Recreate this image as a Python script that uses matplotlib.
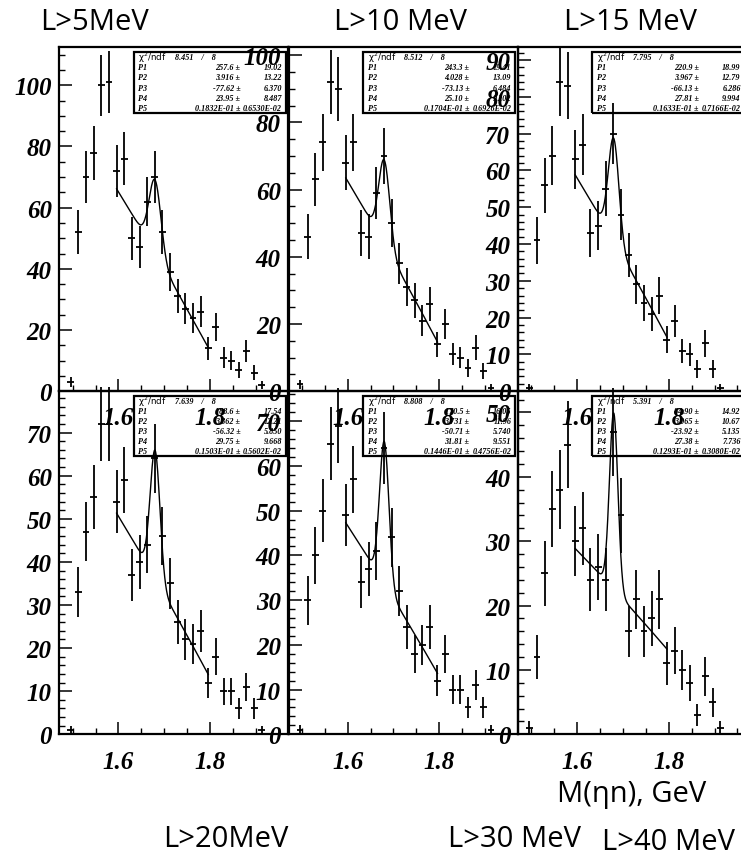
import numpy as np
import matplotlib
matplotlib.use("Agg")
import matplotlib.pyplot as plt
from matplotlib.patches import Rectangle
from matplotlib.ticker import MultipleLocator

# ---------------- data ----------------
mass = [1.4960, 1.5127, 1.5293, 1.5460, 1.5627, 1.5793, 1.5960, 1.6127, 1.6293,
        1.6460, 1.6627, 1.6793, 1.6960, 1.7127, 1.7293, 1.7460, 1.7627, 1.7793,
        1.7960, 1.8127, 1.8293, 1.8460, 1.8627, 1.8793, 1.8960, 1.9127]

counts_L5 = [3, 52, 70, 78, 100, 101, 72, 76, 50, 47, 62, 70, 52, 39, 31, 27,
             24, 26, 14, 21, 11, 10, 7, 13, 6, 2]
counts_L10 = [2, 46, 63, 74, 92, 90, 68, 74, 47, 46, 59, 70, 50, 38, 31, 27,
              21, 26, 14, 20, 11, 10, 7, 13, 6, 1]
counts_L15 = [1, 41, 56, 64, 84, 83, 63, 67, 43, 45, 55, 70, 48, 37, 29, 24,
              21, 26, 14, 19, 11, 10, 6, 13, 6, 1]
counts_L20 = [1, 33, 47, 55, 72, 72, 54, 59, 37, 40, 44, 64, 46, 35, 26, 22,
              21, 24, 12, 18, 10, 10, 6, 11, 6, 1]
counts_L30 = [1, 30, 40, 50, 65, 69, 49, 57, 34, 37, 41, 64, 44, 32, 24, 18,
              20, 24, 12, 18, 10, 10, 6, 11, 6, 1]
counts_L40 = [1, 12, 25, 35, 38, 45, 30, 32, 24, 26, 24, 47, 34, 16, 21, 16,
              18, 21, 11, 13, 10, 8, 3, 9, 5, 1]

# fit parameters P1..P5 and their errors, chi2/ndf
fit_L5 = [257.6, 3.916, -77.62, 23.95, 0.01832]
fiterr_L5 = [19.02, 13.22, 6.370, 8.487, 0.006530]
chi2_L5 = [8.451, 8]
fit_L10 = [243.3, 4.028, -73.13, 25.10, 0.01704]
fiterr_L10 = [19.41, 13.09, 6.484, 9.202, 0.006926]
chi2_L10 = [8.512, 8]
fit_L15 = [220.9, 3.967, -66.13, 27.81, 0.01633]
fiterr_L15 = [18.99, 12.79, 6.286, 9.994, 0.007166]
chi2_L15 = [7.795, 8]
fit_L20 = [188.6, 3.862, -56.32, 29.75, 0.01503]
fiterr_L20 = [17.54, 12.21, 5.850, 9.668, 0.005602]
chi2_L20 = [7.639, 8]
fit_L30 = [170.5, 3.731, -50.71, 31.81, 0.01446]
fiterr_L30 = [16.05, 11.96, 5.740, 9.551, 0.004756]
chi2_L30 = [8.808, 8]
fit_L40 = [84.90, 3.065, -23.92, 27.38, 0.01293]
fiterr_L40 = [14.92, 10.67, 5.135, 7.736, 0.003080]
chi2_L40 = [5.391, 8]

peak_mass = 1.68
fit_range = [1.596, 1.796]

panel_titles = ["L>5MeV", "L>10 MeV", "L>15 MeV", "L>20MeV", "L>30 MeV", "L>40 MeV"]
xlabel_text = "M(\u03b7n), GeV"

panels = [
    (counts_L5, fit_L5, fiterr_L5, chi2_L5),
    (counts_L10, fit_L10, fiterr_L10, chi2_L10),
    (counts_L15, fit_L15, fiterr_L15, chi2_L15),
    (counts_L20, fit_L20, fiterr_L20, chi2_L20),
    (counts_L30, fit_L30, fiterr_L30, chi2_L30),
    (counts_L40, fit_L40, fiterr_L40, chi2_L40),
]
ymax = [112.6, 102.5, 93.6, 79.6, 76.7, 53.3]
ymajor = [20, 20, 10, 10, 10, 10]
yminor = [5, 5, 2, 2, 2, 2]

# ---------------- layout ----------------
W, H = 741, 862
fig = plt.figure(figsize=(W / 100, H / 100), dpi=100)
fig.patch.set_facecolor("white")

col_left = [59.3, 288.5, 517.9]
axw = 229.2
row_top = [47.7, 392.2]
row_h = [344.5, 343.1]

lab_font = dict(family="Liberation Serif", weight="bold", style="italic", size=18)
box_font = dict(family="Liberation Serif", weight="bold", style="italic", size=5.9)


def fmt4(v):
    if v == 0:
        return "0.000"
    nd = int(np.floor(np.log10(abs(v)))) + 1
    dec = max(0, 4 - nd)
    return f"{v:.{dec}f}"


def fmt_e(v):
    e = int(np.floor(np.log10(abs(v)))) + 1
    m = v / 10 ** e
    return f"{m:.4f}E{e:+03d}"


def fit_func(x, p):
    return p[0] + p[1] * x + p[2] * x ** 2 + p[3] * np.exp(-((x - peak_mass) / p[4]) ** 2)


for i, (counts, par, perr, chi2) in enumerate(panels):
    r, c = divmod(i, 3)
    left = col_left[c] / W
    bottom = 1 - (row_top[r] + row_h[r]) / H
    ax = fig.add_axes([left, bottom, axw / W, row_h[r] / H])
    ax.set_facecolor("none")
    ax.set_xlim(1.471, 1.971)
    ax.set_ylim(0, ymax[i])

    cnt = np.array(counts, dtype=float)
    eb = ax.errorbar(mass, cnt, yerr=np.sqrt(cnt), xerr=0.0075, fmt="none",
                     ecolor="black", elinewidth=1.3, capsize=0)
    for coll in eb.lines[2]:
        coll.set_clip_on(False)

    xf = np.linspace(fit_range[0], fit_range[1], 300)
    ax.plot(xf, fit_func(xf, par), color="black", lw=1.0)

    # axes styling
    for sp in ax.spines.values():
        sp.set_linewidth(1.6)
    ax.xaxis.set_major_locator(MultipleLocator(0.2))
    ax.xaxis.set_minor_locator(MultipleLocator(0.05))
    ax.yaxis.set_major_locator(MultipleLocator(ymajor[i]))
    ax.yaxis.set_minor_locator(MultipleLocator(yminor[i]))
    ax.tick_params(axis="both", which="both", direction="in", top=False, right=False,
                   color="black")
    ax.tick_params(axis="both", which="major", length=9, width=1.1)
    ax.tick_params(axis="both", which="minor", length=4.5, width=1.0)
    ax.tick_params(axis="y", which="major", pad=5.5)
    ax.tick_params(axis="x", which="major", pad=11)
    ax.set_xticks([1.6, 1.8])
    ax.set_xticklabels(["1.6", "1.8"])
    for t in ax.get_xticklabels() + ax.get_yticklabels():
        t.set_fontfamily(lab_font["family"])
        t.set_fontweight(lab_font["weight"])
        t.set_fontstyle(lab_font["style"])
        t.set_fontsize(lab_font["size"])

    # stats box
    bx0, bx1 = 0.325, 0.989
    if r == 0:
        by0, by1 = 0.808, 0.984
    else:
        by0, by1 = 0.810, 0.987
    bw, bh = bx1 - bx0, by1 - by0
    ax.add_patch(Rectangle((bx0, by0), bw, bh, transform=ax.transAxes,
                           facecolor="none", edgecolor="black", lw=1.6,
                           clip_on=False, zorder=5))
    rows = 6
    for k in range(rows):
        yy = by1 - (k + 0.5) * bh / rows
        if k == 0:
            ax.text(bx0 + 0.03 * bw, yy, "\u03c7$^{2}$/ndf", transform=ax.transAxes,
                    ha="left", va="center", fontsize=6.3, family="DejaVu Sans",
                    clip_on=False, zorder=6)
            ax.text(bx0 + 0.27 * bw, yy, f"{chi2[0]:.3f}    /    {chi2[1]}",
                    transform=ax.transAxes, ha="left", va="center", clip_on=False,
                    zorder=6, **box_font)
        else:
            j = k - 1
            if j == 4:
                vs, es = fmt_e(par[j]), fmt_e(perr[j])
            else:
                vs, es = fmt4(par[j]), fmt4(perr[j])
            ax.text(bx0 + 0.03 * bw, yy, f"P{j + 1}", transform=ax.transAxes,
                    ha="left", va="center", clip_on=False, zorder=6, **box_font)
            ax.text(bx0 + 0.70 * bw, yy, vs + " \u00b1", transform=ax.transAxes,
                    ha="right", va="center", clip_on=False, zorder=6, **box_font)
            ax.text(bx0 + 0.975 * bw, yy, es, transform=ax.transAxes,
                    ha="right", va="center", clip_on=False, zorder=6, **box_font)

# ---------------- annotations ----------------
ann_font = dict(family=["Open Sans", "DejaVu Sans"], size=21, color="black")
title_pos = [(95, 22), (400, 22), (630, 22), (226, 840), (515, 840), (668, 843)]
for t, (px, py) in zip(panel_titles, title_pos):
    fig.text(px / W, 1 - py / H, t, ha="center", va="center", **ann_font)
fig.text(632 / W, 1 - 795 / H, xlabel_text, ha="center", va="center", **ann_font)

fig.savefig("out.png", dpi=100, facecolor="white")
